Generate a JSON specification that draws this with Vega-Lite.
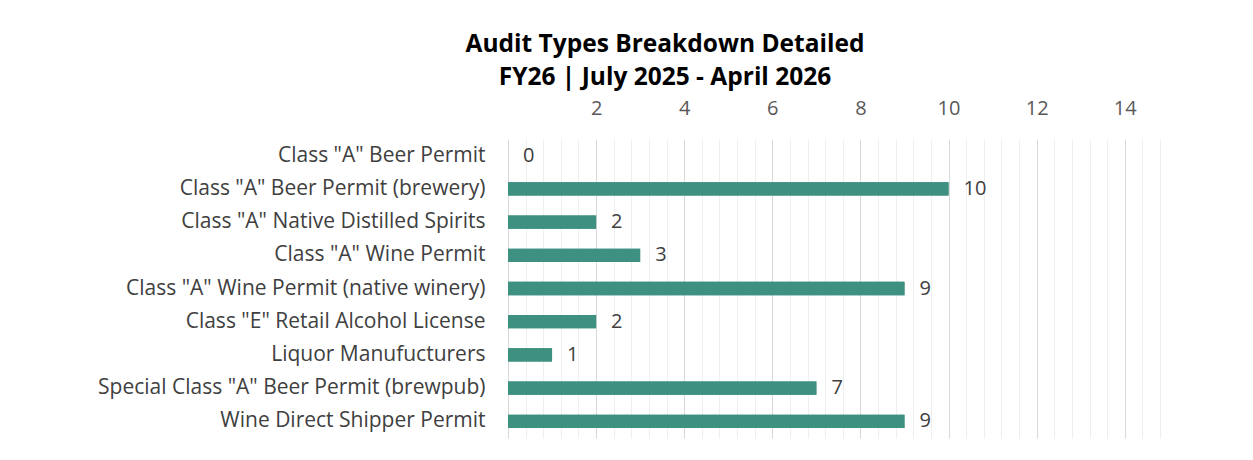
{
  "$schema": "https://vega.github.io/schema/vega-lite/v6.json",
  "autosize": {"type": "none"},
  "width": 652,
  "height": 299,
  "padding": {"left": 508, "top": 139, "right": 93, "bottom": 22},
  "background": "white",
  "config": {"view": {"stroke": null}},
  "title": {
    "text": ["Audit Types Breakdown Detailed", "FY26 | July 2025 - April 2026"],
    "font": "Open Sans",
    "fontSize": 24.5,
    "fontWeight": "bold",
    "color": "#000000",
    "anchor": "middle",
    "frame": "group",
    "dx": -169,
    "offset": 8,
    "lineHeight": 33
  },
  "data": {
    "values": [
      {"type": "Class \"A\" Beer Permit", "count": 0},
      {"type": "Class \"A\" Beer Permit (brewery)", "count": 10},
      {"type": "Class \"A\" Native Distilled Spirits", "count": 2},
      {"type": "Class \"A\" Wine Permit", "count": 3},
      {"type": "Class \"A\" Wine Permit (native winery)", "count": 9},
      {"type": "Class \"E\" Retail Alcohol License", "count": 2},
      {"type": "Liquor Manufucturers", "count": 1},
      {"type": "Special Class \"A\" Beer Permit (brewpub)", "count": 7},
      {"type": "Wine Direct Shipper Permit", "count": 9}
    ]
  },
  "encoding": {
    "y": {
      "field": "type",
      "type": "nominal",
      "sort": null,
      "scale": {"paddingInner": 0.6, "paddingOuter": 0.3},
      "axis": {
        "title": null,
        "ticks": false,
        "domain": false,
        "labelPadding": 23,
        "labelFont": "Open Sans",
        "labelFontSize": 21,
        "labelColor": "#404040",
        "labelLimit": 500
      }
    }
  },
  "resolve": {"axis": {"x": "independent"}},
  "layer": [
    {
      "mark": {"type": "bar", "color": "#3e9080"},
      "encoding": {
        "x": {
          "field": "count",
          "type": "quantitative",
          "scale": {"domain": [0, 14.8], "nice": false, "zero": true},
          "axis": {
            "orient": "top",
            "title": null,
            "values": [0.4, 0.8, 1.2, 1.6, 2.4, 2.8, 3.2, 3.6, 4.4, 4.8, 5.2, 5.6, 6.4, 6.8, 7.2, 7.6, 8.4, 8.8, 9.2, 9.6, 10.4, 10.8, 11.2, 11.6, 12.4, 12.8, 13.2, 13.6, 14.4, 14.8],
            "labels": false,
            "ticks": false,
            "domain": false,
            "grid": true,
            "gridColor": "#efefef",
            "gridWidth": 1
          }
        }
      }
    },
    {
      "mark": {"type": "bar", "opacity": 0},
      "encoding": {
        "x": {
          "field": "count",
          "type": "quantitative",
          "axis": {
            "orient": "top",
            "title": null,
            "values": [0, 2, 4, 6, 8, 10, 12, 14],
            "labelExpr": "datum.value == 0 ? '' : datum.label",
            "ticks": false,
            "domain": false,
            "grid": true,
            "gridColor": "#d9d9d9",
            "gridWidth": 1,
            "labelPadding": 21,
            "labelFont": "Open Sans",
            "labelFontSize": 20,
            "labelColor": "#595959"
          }
        }
      }
    },
    {
      "mark": {"type": "bar", "color": "#3e9080"},
      "encoding": {
        "x": {"field": "count", "type": "quantitative", "axis": null}
      }
    },
    {
      "mark": {"type": "text", "align": "left", "baseline": "middle", "dx": 15, "font": "Open Sans", "fontSize": 20, "color": "#404040"},
      "encoding": {
        "x": {"field": "count", "type": "quantitative", "axis": null},
        "text": {"field": "count", "type": "quantitative"}
      }
    }
  ]
}
